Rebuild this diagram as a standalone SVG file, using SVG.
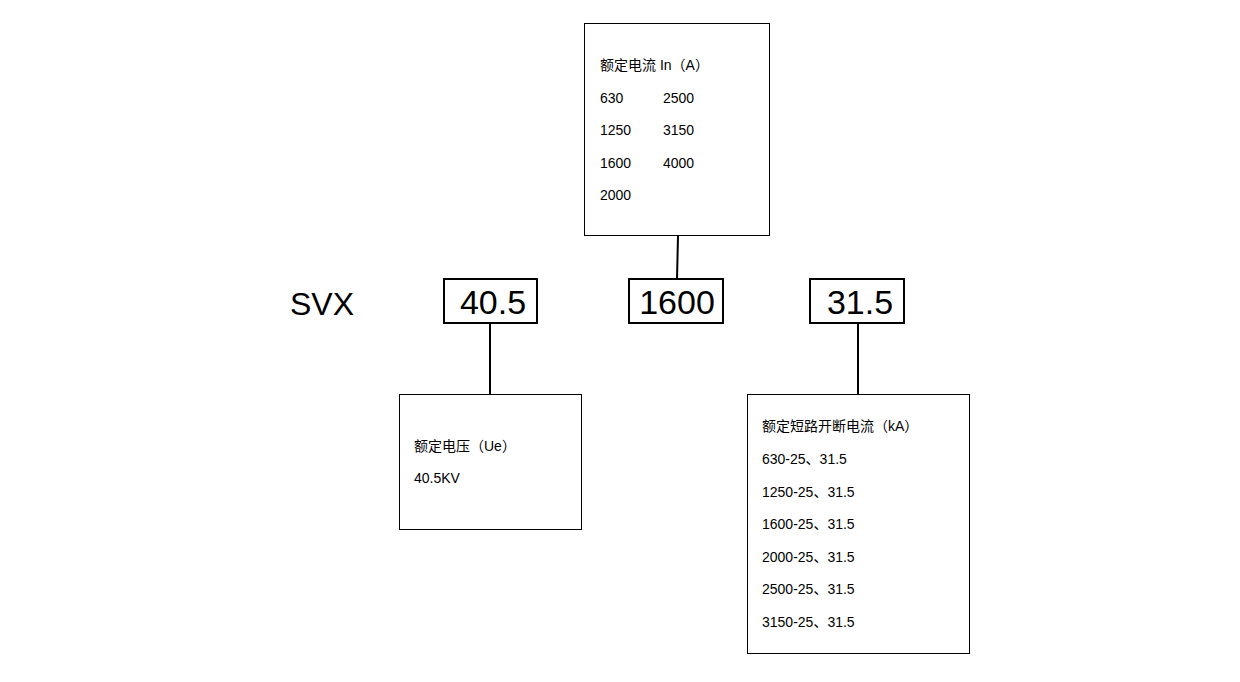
<svg xmlns="http://www.w3.org/2000/svg" width="1240" height="682" viewBox="0 0 1240 682">
<style>
.b{fill:#fff;stroke:#000;stroke-width:1}
.k{fill:#fff;stroke:#000;stroke-width:2}
.t{font-family:"Liberation Sans","Noto Sans CJK SC",sans-serif;font-size:14px;fill:#000}
.big{font-family:"Liberation Sans","Noto Sans CJK SC",sans-serif;font-size:34px;fill:#000;text-anchor:middle}
line{stroke:#000;stroke-width:2}
</style>
<rect width="1240" height="682" fill="#fff"/>
<g id="connectors">
<line x1="678" y1="236" x2="677" y2="279"/>
<line x1="490" y1="323" x2="490" y2="394"/>
<line x1="858" y1="323" x2="858" y2="394"/>
</g>
<g id="svx"><text x="290" y="315" font-family="Liberation Sans,sans-serif" font-size="32">SVX</text></g>
<g id="current-box">
<rect class="b" x="584.5" y="23.5" width="185" height="212"/>
<text class="t" x="600" y="70">额定电流 In（A）</text>
<text class="t" x="600" y="103">630</text><text class="t" x="663" y="103">2500</text>
<text class="t" x="600" y="135">1250</text><text class="t" x="663" y="135">3150</text>
<text class="t" x="600" y="168">1600</text><text class="t" x="663" y="168">4000</text>
<text class="t" x="600" y="200">2000</text>
</g>
<g id="v405"><rect class="k" x="444" y="279" width="93" height="44"/><text class="big" x="493" y="314">40.5</text></g>
<g id="v1600"><rect class="k" x="629" y="279" width="94" height="44"/><text class="big" x="677" y="314">1600</text></g>
<g id="v315"><rect class="k" x="810" y="279" width="94" height="44"/><text class="big" x="860" y="314">31.5</text></g>
<g id="voltage-box">
<rect class="b" x="399.5" y="394.5" width="182" height="135"/>
<text class="t" x="414" y="451">额定电压（Ue）</text>
<text class="t" x="414" y="483">40.5KV</text>
</g>
<g id="break-box">
<rect class="b" x="747.5" y="394.5" width="222" height="259"/>
<text class="t" x="762" y="431">额定短路开断电流（kA）</text>
<text class="t" x="762" y="464">630-25、31.5</text>
<text class="t" x="762" y="497">1250-25、31.5</text>
<text class="t" x="762" y="529">1600-25、31.5</text>
<text class="t" x="762" y="562">2000-25、31.5</text>
<text class="t" x="762" y="594">2500-25、31.5</text>
<text class="t" x="762" y="627">3150-25、31.5</text>
</g>
</svg>
